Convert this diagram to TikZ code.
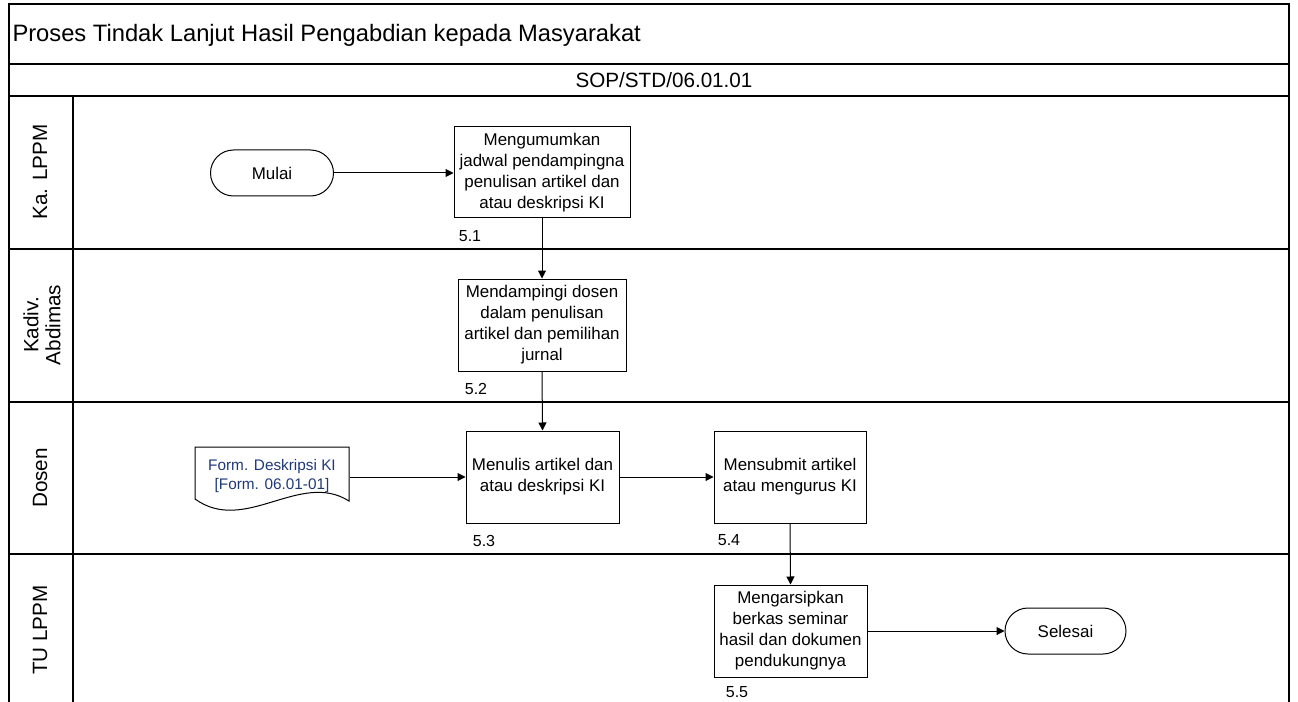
\documentclass[tikz,border=0pt]{standalone}
\usepackage{fontspec}
\setmainfont{Liberation Sans}
\usetikzlibrary{arrows.meta,shapes.misc}
\definecolor{docblue}{RGB}{31,56,120}
\begin{document}
\begin{tikzpicture}[x=0.75pt,y=-0.75pt,
  line width=0.75pt,
  frame/.style={draw=black,line width=1.2pt},
  procbox/.style={draw,rectangle,inner sep=0pt,align=center,
    font=\fontsize{12.7}{15.75}\selectfont},
  term/.style={draw,rounded rectangle,inner sep=0pt,minimum height=34.5pt,
    font=\fontsize{12.7}{15}\selectfont},
  lanelabel/.style={rotate=90,align=center,font=\fontsize{15.5}{16.5}\selectfont},
  numlabel/.style={font=\fontsize{12}{14}\selectfont,inner sep=0pt},
  flow/.style={-{Triangle[length=6pt,width=6pt]}}
]
\useasboundingbox (0,0) rectangle (1298,702);
% frame
\draw[frame] (9,702) -- (9,4) -- (1289,4) -- (1289,702);
\draw[frame] (9,64) -- (1289,64);
\draw[frame] (9,96) -- (1289,96);
\draw[frame] (9,249) -- (1289,249);
\draw[frame] (9,402) -- (1289,402);
\draw[frame] (9,554) -- (1289,554);
\draw[frame] (73,96) -- (73,702);
% header texts
\node[anchor=west,inner sep=0pt,font=\fontsize{17.8}{20}\selectfont] (title) at (12,35) {Proses Tindak Lanjut Hasil Pengabdian kepada Masyarakat};
\node[inner sep=0pt,font=\fontsize{15.5}{17}\selectfont] (sop) at (664,80) {SOP/STD/06.01.01};
% lane labels
\node[lanelabel] (l1) at (40,172) {Ka. LPPM};
\node[lanelabel] (l2) at (42,325) {Kadiv.\\Abdimas};
\node[lanelabel] (l3) at (40,478) {Dosen};
\node[lanelabel] (l4) at (40,630) {TU LPPM};
% nodes
\node[term,minimum width=92.25pt] (mulai) at (272,173) {Mulai};
\node[procbox,minimum width=132pt,minimum height=68.25pt] (p1) at (542,172.5)
  {Mengumumkan\\jadwal pendampingna\\penulisan artikel dan\\atau deskripsi KI};
\node[procbox,minimum width=126pt,minimum height=69pt] (p2) at (542,325)
  {Mendampingi dosen\\dalam penulisan\\artikel dan pemilihan\\jurnal};
\node[procbox,minimum width=114.75pt,minimum height=69pt] (p3) at (542.5,477)
  {Menulis artikel dan\\atau deskripsi KI};
\node[procbox,minimum width=114pt,minimum height=69pt] (p4) at (790,477)
  {Mensubmit artikel\\atau mengurus KI};
\node[procbox,minimum width=114.75pt,minimum height=69pt] (p5) at (790.5,631)
  {Mengarsipkan\\berkas seminar\\hasil dan dokumen\\pendukungnya};
\node[term,minimum width=90.75pt] (selesai) at (1065.5,631) {Selesai};
% document
\node[inner sep=0pt,minimum width=115.5pt,align=center,text=docblue,
  font=\fontsize{11.5}{14.5}\selectfont] (doc) at (272,476) {Form. Deskripsi KI\\{[Form. 06.01-01]}};
\draw (195,447) -- (349,447) -- (349,501)
  .. controls (300,470) and (245,535) .. (195,499) -- cycle;
% numbers
\node[numlabel] (n1) at (470,236) {5.1};
\node[numlabel] (n2) at (476,389) {5.2};
\node[numlabel] (n3) at (484,541) {5.3};
\node[numlabel] (n4) at (729,540) {5.4};
\node[numlabel] (n5) at (737,692) {5.5};
% connectors
\draw[flow] (mulai.east) -- (mulai.east -| p1.west);
\draw[flow] (p1.south) -- (p2.north);
\draw[flow] (p2.south) -- (p3.north);
\draw[flow] (doc.east |- p3.west) -- (p3.west);
\draw[flow] (p3.east) -- (p4.west);
\draw[flow] (p4.south) -- (p5.north);
\draw[flow] (p5.east) -- (selesai.west);
\end{tikzpicture}
\end{document}
